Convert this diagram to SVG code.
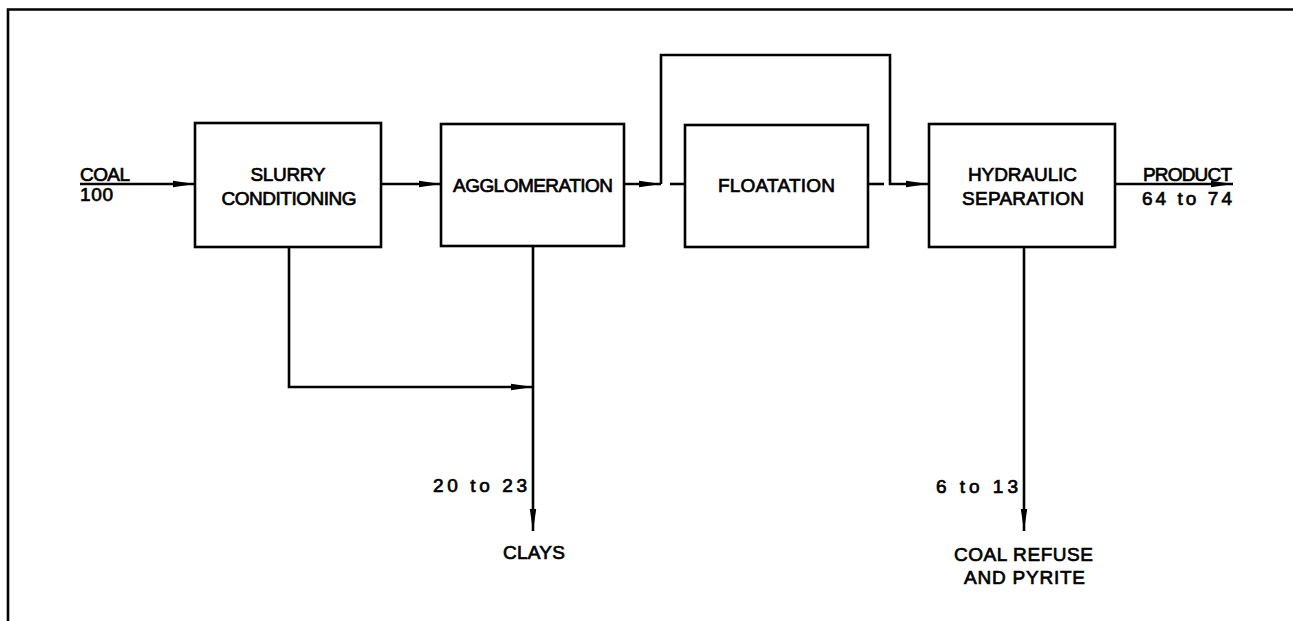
<svg xmlns="http://www.w3.org/2000/svg" width="1293" height="621" viewBox="0 0 1293 621">
<defs>
<marker id="ah" markerUnits="userSpaceOnUse" markerWidth="24" markerHeight="10" refX="22" refY="5" orient="auto">
<path d="M0,1.8 L22,5 L0,8.2 Z" fill="#000"/>
</marker>
<style>
.box{fill:#fff;stroke:#000;stroke-width:2.6}
.ln{fill:none;stroke:#000;stroke-width:2.6}
.t{font-family:"Liberation Sans",Arial,sans-serif;font-size:19px;fill:#000;stroke:#000;stroke-width:0.7}
.m{text-anchor:middle}
</style>
</defs>
<rect width="1293" height="621" fill="#fff"/>
<g id="frame"><path class="ln" d="M8,621 L8,9.5 L1293,9.5" stroke-width="3"/></g>
<g id="connectors">
<path class="ln" d="M80,184 L195,184" marker-end="url(#ah)"/>
<path class="ln" d="M381,184 L441,184" marker-end="url(#ah)"/>
<path class="ln" d="M624,184 L661,184" marker-end="url(#ah)"/>
<path class="ln" d="M661,184 L661,55 L890,55 L890,184 L928,184" marker-end="url(#ah)"/>
<path class="ln" d="M670,184 L685,184"/>
<path class="ln" d="M868,184 L884,184"/>
<path class="ln" d="M1115,184 L1233,184" marker-end="url(#ah)"/>
<path class="ln" d="M289,247 L289,387 L533,387" marker-end="url(#ah)"/>
<path class="ln" d="M533,246 L533,531" marker-end="url(#ah)"/>
<path class="ln" d="M1024,247 L1024,531" marker-end="url(#ah)"/>
</g>
<g id="slurry">
<rect class="box" x="195" y="123" width="186" height="124"/>
<text class="t m" x="288" y="180.5" textLength="75" lengthAdjust="spacing">SLURRY</text>
<text class="t m" x="289" y="204.5" textLength="135" lengthAdjust="spacing">CONDITIONING</text>
</g>
<g id="agglomeration">
<rect class="box" x="441" y="124" width="183" height="122"/>
<text class="t m" x="533" y="192" textLength="160" lengthAdjust="spacing">AGGLOMERATION</text>
</g>
<g id="floatation">
<rect class="box" x="685" y="125" width="183" height="122"/>
<text class="t m" x="776.5" y="192" textLength="117" lengthAdjust="spacing">FLOATATION</text>
</g>
<g id="hydraulic">
<rect class="box" x="929" y="124" width="186" height="123"/>
<text class="t m" x="1022.5" y="180.5" textLength="109" lengthAdjust="spacing">HYDRAULIC</text>
<text class="t m" x="1023" y="204.5" textLength="122" lengthAdjust="spacing">SEPARATION</text>
</g>
<g id="labels">
<text class="t" x="80" y="180.5" textLength="50" lengthAdjust="spacing">COAL</text>
<text class="t" x="80" y="201" textLength="33" lengthAdjust="spacing">100</text>
<text class="t" x="1143" y="180.5" textLength="89" lengthAdjust="spacing">PRODUCT</text>
<text class="t" x="1142" y="205" textLength="90" lengthAdjust="spacing">64 to 74</text>
<text class="t" x="433" y="491.5" textLength="94" lengthAdjust="spacing">20 to 23</text>
<text class="t m" x="534" y="558.5" textLength="62" lengthAdjust="spacing">CLAYS</text>
<text class="t" x="936" y="492.5" textLength="82" lengthAdjust="spacing">6 to 13</text>
<text class="t m" x="1023.5" y="561" textLength="139" lengthAdjust="spacing">COAL REFUSE</text>
<text class="t m" x="1024.5" y="583.5" textLength="121" lengthAdjust="spacing">AND PYRITE</text>
</g>
</svg>
